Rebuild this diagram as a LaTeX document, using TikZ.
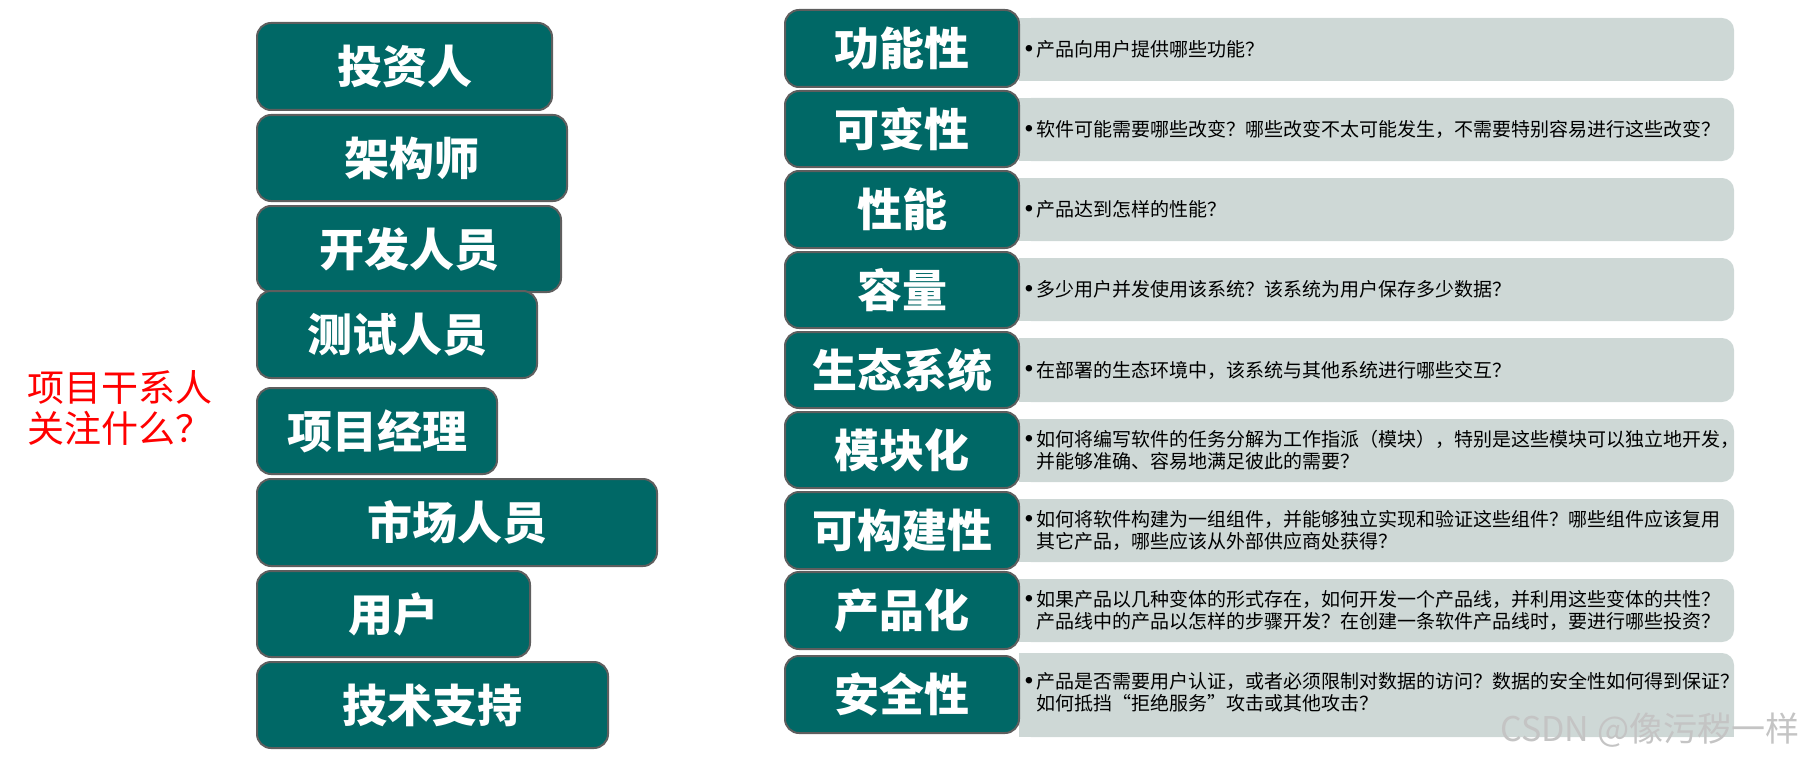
\documentclass[tikz,border=0pt]{standalone}
\usepackage{fontspec}
\newfontfamily\cjk{Noto Sans CJK SC}
\definecolor{tealbox}{RGB}{0,104,102}
\definecolor{boxline}{RGB}{94,94,94}
\definecolor{qgray}{RGB}{206,216,214}
\definecolor{marktext}{RGB}{196,196,196}
\begin{document}
\begin{tikzpicture}[x=0.5pt, y=-0.5pt,
  role/.style={fill=tealbox, draw=boxline, line width=1pt, rounded corners=7pt},
  roletext/.style={text=white, inner sep=0pt, font=\cjk\bfseries\fontsize{22.5}{27}\selectfont},
  qfill/.style={fill=qgray},
  qtext/.style={anchor=west, align=left, inner sep=0pt, font=\cjk\fontsize{9.5}{11}\selectfont},
  qbullet/.style={inner sep=0pt, font=\fontsize{12}{12}\selectfont}]
\useasboundingbox (0,0) rectangle (1818,765);
% question
\node[anchor=west, align=left, inner sep=0pt, text=red, font=\cjk\fontsize{18.5}{20.5}\selectfont] (ask) at (27,407.5) {项目干系人\\关注什么？};
% stakeholders
\filldraw[role] (257,23) rectangle (552,110);
\node[roletext] (investor) at (404.5,66.5) {投资人};
\filldraw[role] (257,115) rectangle (567,201);
\node[roletext] (architect) at (412,158) {架构师};
\filldraw[role] (257,206) rectangle (561,292);
\node[roletext] (developer) at (409,249) {开发人员};
\filldraw[role] (257,291) rectangle (537,378);
\node[roletext] (tester) at (397,334.5) {测试人员};
\filldraw[role] (257,388) rectangle (497,474);
\node[roletext] (manager) at (377,431) {项目经理};
\filldraw[role] (257,479) rectangle (657,566);
\node[roletext] (marketing) at (457,522.5) {市场人员};
\filldraw[role] (257,571) rectangle (530,657);
\node[roletext] (user) at (393.5,614) {用户};
\filldraw[role] (257,662) rectangle (608,748);
\node[roletext] (support) at (432.5,705) {技术支持};
% grey answer bars
\fill[qfill, rounded corners=6pt] (1019,18) rectangle (1734,81);
\fill[qfill] (1019,18) rectangle (1060,81);
\fill[qfill, rounded corners=6pt] (1019,98) rectangle (1734,161);
\fill[qfill] (1019,98) rectangle (1060,161);
\fill[qfill, rounded corners=6pt] (1019,178) rectangle (1734,241);
\fill[qfill] (1019,178) rectangle (1060,241);
\fill[qfill, rounded corners=6pt] (1019,258) rectangle (1734,321);
\fill[qfill] (1019,258) rectangle (1060,321);
\fill[qfill, rounded corners=6pt] (1019,338) rectangle (1734,402);
\fill[qfill] (1019,338) rectangle (1060,402);
\fill[qfill, rounded corners=6pt] (1019,419) rectangle (1734,482);
\fill[qfill] (1019,419) rectangle (1060,482);
\fill[qfill, rounded corners=6pt] (1019,499) rectangle (1734,562);
\fill[qfill] (1019,499) rectangle (1060,562);
\fill[qfill, rounded corners=6pt] (1019,579) rectangle (1734,642);
\fill[qfill] (1019,579) rectangle (1060,642);
\fill[qfill, rounded corners=6pt] (1019,653) rectangle (1734,737);
\fill[qfill] (1019,653) rectangle (1060,737);
\fill[qfill] (1019,700) rectangle (1734,737);
% quality attributes
\filldraw[role] (785,10) rectangle (1019,87);
\node[roletext] (func) at (902,48.5) {功能性};
\filldraw[role] (785,91) rectangle (1019,167);
\node[roletext] (change) at (902,129) {可变性};
\filldraw[role] (785,171) rectangle (1019,248);
\node[roletext] (perf) at (902,209.5) {性能};
\filldraw[role] (785,252) rectangle (1019,328);
\node[roletext] (capacity) at (902,290) {容量};
\filldraw[role] (785,332) rectangle (1019,408);
\node[roletext] (eco) at (902,370) {生态系统};
\filldraw[role] (785,412) rectangle (1019,488);
\node[roletext] (modular) at (902,450) {模块化};
\filldraw[role] (785,492) rectangle (1019,569);
\node[roletext] (build) at (902,530.5) {可构建性};
\filldraw[role] (785,572) rectangle (1019,649);
\node[roletext] (product) at (902,610.5) {产品化};
\filldraw[role] (785,656) rectangle (1019,733);
\node[roletext] (secure) at (902,694.5) {安全性};
% answers
\node[qbullet] (b1) at (1029,49.5) {\textbullet};
\node[qtext] (a1) at (1036,49.5) {产品向用户提供哪些功能？};
\node[qbullet] (b2) at (1029,129.5) {\textbullet};
\node[qtext] (a2) at (1036,129.5) {软件可能需要哪些改变？哪些改变不太可能发生，不需要特别容易进行这些改变？};
\node[qbullet] (b3) at (1029,209.5) {\textbullet};
\node[qtext] (a3) at (1036,209.5) {产品达到怎样的性能？};
\node[qbullet] (b4) at (1029,289.5) {\textbullet};
\node[qtext] (a4) at (1036,289.5) {多少用户并发使用该系统？该系统为用户保存多少数据？};
\node[qbullet] (b5) at (1029,370) {\textbullet};
\node[qtext] (a5) at (1036,370) {在部署的生态环境中，该系统与其他系统进行哪些交互？};
\node[qbullet] (b6) at (1029,439.5) {\textbullet};
\node[qtext] (a6) at (1036,450.5) {如何将编写软件的任务分解为工作指派（模块），特别是这些模块可以独立地开发，\\并能够准确、容易地满足彼此的需要？};
\node[qbullet] (b7) at (1029,519.5) {\textbullet};
\node[qtext] (a7) at (1036,530.5) {如何将软件构建为一组组件，并能够独立实现和验证这些组件？哪些组件应该复用\\其它产品，哪些应该从外部供应商处获得？};
\node[qbullet] (b8) at (1029,599.5) {\textbullet};
\node[qtext] (a8) at (1036,610.5) {如果产品以几种变体的形式存在，如何开发一个产品线，并利用这些变体的共性？\\产品线中的产品以怎样的步骤开发？在创建一条软件产品线时，要进行哪些投资？};
\node[qbullet] (b9) at (1029,681.5) {\textbullet};
\node[qtext] (a9) at (1036,692.5) {产品是否需要用户认证，或者必须限制对数据的访问？数据的安全性如何得到保证？\\如何抵挡“拒绝服务”攻击或其他攻击？};
% watermark
\node[anchor=west, inner sep=0pt, text=marktext, font=\cjk\fontsize{17}{20}\selectfont] (mark) at (1500,730) {CSDN @像污秽一样};
\end{tikzpicture}
\end{document}
